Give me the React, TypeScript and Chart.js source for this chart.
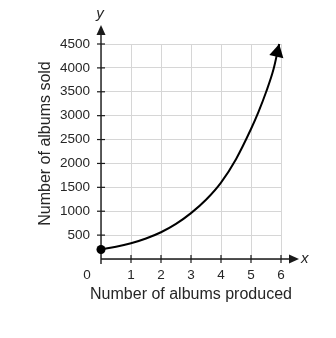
import { useEffect, useRef } from 'react';
import { Chart, registerables } from 'chart.js';

Chart.register(...registerables);

// Curve (albums produced -> albums sold); last point is the arrow tip
const xValues = [0, 0.5, 1, 1.5, 2, 2.5, 3, 3.5, 4, 4.5, 5, 5.25, 5.5, 5.75, 5.94];
const yValues = [200, 255, 330, 430, 560, 735, 960, 1240, 1600, 2090, 2720, 3080, 3490, 3970, 4500];
const xTicks = [0, 1, 2, 3, 4, 5, 6];
const yTicks = [500, 1000, 1500, 2000, 2500, 3000, 3500, 4000, 4500];
const xTitle = 'Number of albums produced';
const yTitle = 'Number of albums sold';
const xAxisName = 'x';
const yAxisName = 'y';

const W = 320;
const H = 322;
const FONT = '"Liberation Sans", Arial, sans-serif';
const TEXT = '#262626';
const AXIS = '#1a1a1a';

function tri(ctx: CanvasRenderingContext2D, tx: number, ty: number, dx: number, dy: number, len: number, half: number) {
  const L = Math.hypot(dx, dy);
  const ux = dx / L;
  const uy = dy / L;
  const bx = tx - ux * len;
  const by = ty - uy * len;
  ctx.beginPath();
  ctx.moveTo(tx, ty);
  ctx.lineTo(bx - uy * half, by + ux * half);
  ctx.lineTo(bx + uy * half, by - ux * half);
  ctx.closePath();
  ctx.fill();
}

const decor = {
  id: 'decor',
  beforeDatasetsDraw(chart: any) {
    const ctx: CanvasRenderingContext2D = chart.ctx;
    const xs = chart.scales.x;
    const ys = chart.scales.y;
    const x0 = xs.getPixelForValue(0);
    const y0 = ys.getPixelForValue(0);
    const xEnd = xs.getPixelForValue(6);
    const yTop = ys.getPixelForValue(4500);
    ctx.save();
    ctx.strokeStyle = AXIS;
    ctx.fillStyle = AXIS;
    ctx.lineWidth = 1.4;
    // y axis
    ctx.beginPath();
    ctx.moveTo(x0, y0 + 5);
    ctx.lineTo(x0, yTop - 14);
    ctx.stroke();
    tri(ctx, x0, yTop - 19, 0, -1, 10, 4.5);
    // x axis
    ctx.beginPath();
    ctx.moveTo(x0, y0);
    ctx.lineTo(xEnd + 10, y0);
    ctx.stroke();
    tri(ctx, xEnd + 18, y0, 1, 0, 10, 4.5);
    // tick marks
    ctx.lineWidth = 1.2;
    xTicks.forEach((t) => {
      if (t === 0) return;
      const px = xs.getPixelForValue(t);
      ctx.beginPath();
      ctx.moveTo(px, y0 - 4);
      ctx.lineTo(px, y0 + 4);
      ctx.stroke();
    });
    yTicks.forEach((t) => {
      const py = ys.getPixelForValue(t);
      ctx.beginPath();
      ctx.moveTo(x0 - 4, py);
      ctx.lineTo(x0 + 4, py);
      ctx.stroke();
    });
    // text
    ctx.fillStyle = TEXT;
    ctx.font = `13.5px ${FONT}`;
    ctx.textAlign = 'center';
    ctx.textBaseline = 'middle';
    ctx.fillText('0', x0 - 14, y0 + 16);
    ctx.font = `italic 15px ${FONT}`;
    ctx.fillText(yAxisName, x0 - 1, yTop - 30);
    ctx.textAlign = 'left';
    ctx.fillText(xAxisName, xEnd + 20, y0);
    ctx.font = `16px ${FONT}`;
    ctx.textAlign = 'center';
    ctx.fillText(xTitle, (x0 + xEnd) / 2, y0 + 36);
    ctx.translate(x0 - 55, (y0 + yTop) / 2 - 8);
    ctx.rotate(-Math.PI / 2);
    ctx.fillText(yTitle, 0, 0);
    ctx.restore();
  },
  afterDraw(chart: any) {
    const ctx: CanvasRenderingContext2D = chart.ctx;
    const xs = chart.scales.x;
    const ys = chart.scales.y;
    // arrowhead at end of curve
    const n = xValues.length;
    const tx = xs.getPixelForValue(xValues[n - 1]);
    const ty = ys.getPixelForValue(yValues[n - 1]);
    const px = xs.getPixelForValue(xValues[n - 2]);
    const py = ys.getPixelForValue(yValues[n - 2]);
    ctx.save();
    ctx.fillStyle = '#000';
    tri(ctx, tx, ty, tx - px, ty - py, 13, 7.2);
    ctx.restore();
  },
};

export default function App() {
  const ref = useRef<HTMLCanvasElement>(null);
  useEffect(() => {
    if (!ref.current) return;
    const chart = new Chart(ref.current, {
      type: 'line',
      data: {
        datasets: [
          {
            data: xValues.map((x, i) => ({ x, y: yValues[i] })),
            borderColor: '#000',
            backgroundColor: '#000',
            borderWidth: 2,
            cubicInterpolationMode: 'monotone',
            pointRadius: xValues.map((_, i) => (i === 0 ? 4.5 : 0)),
            pointBackgroundColor: '#000',
            pointBorderWidth: 0,
            fill: false,
            clip: false,
          },
        ],
      },
      options: {
        responsive: false,
        animation: false,
        layout: { padding: { top: 36, right: 47, left: 0, bottom: 0 } },
        plugins: { legend: { display: false }, tooltip: { enabled: false } },
        scales: {
          x: {
            type: 'linear',
            min: 0,
            max: 6,
            afterFit: (s: any) => {
              s.height = H - 251;
            },
            afterBuildTicks: (s: any) => {
              s.ticks = xTicks.map((v) => ({ value: v }));
            },
            ticks: {
              callback: (v: any) => (v === 0 ? '' : String(v)),
              color: TEXT,
              font: { family: FONT, size: 13.5 },
              padding: 4,
              maxRotation: 0,
            },
            grid: { color: '#d6d6d6', lineWidth: 1, tickColor: 'rgba(0,0,0,0)', tickLength: 4 },
            border: { display: false },
          },
          y: {
            type: 'linear',
            min: 0,
            max: 4500,
            afterFit: (s: any) => {
              s.width = 93;
            },
            afterBuildTicks: (s: any) => {
              s.ticks = [0, ...yTicks].map((v) => ({ value: v }));
            },
            ticks: {
              callback: (v: any) => (v === 0 ? '' : String(v)),
              color: TEXT,
              font: { family: FONT, size: 13.5 },
              padding: 7,
            },
            grid: { color: '#d6d6d6', lineWidth: 1, tickColor: 'rgba(0,0,0,0)', tickLength: 4 },
            border: { display: false },
          },
        },
      },
      plugins: [decor],
    });
    return () => chart.destroy();
  }, []);
  return (
    <div style={{ width: W, height: H }}>
      <canvas ref={ref} width={W} height={H} />
    </div>
  );
}
